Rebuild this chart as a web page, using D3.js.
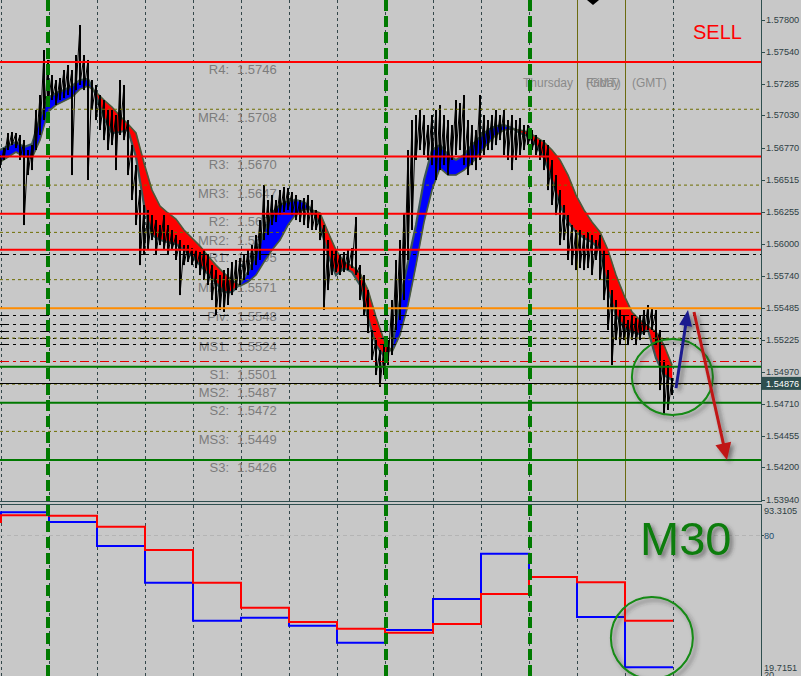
<!DOCTYPE html>
<html><head><meta charset="utf-8">
<script src="https://cdn.jsdelivr.net/npm/d3@7"></script>
<style>html,body{margin:0;padding:0;background:#c8c8c8;overflow:hidden}svg{display:block}</style>
</head><body><svg id="c" width="801" height="676"></svg>
<script>
// ---------- DATA ----------
const barHigh=[1.56712,1.56768,1.56889,1.56897,1.56889,1.56873,1.56832,1.56752,1.56792,1.57074,1.57194,1.57556,1.57476,1.57355,1.57315,1.57331,1.57395,1.57435,1.57395,1.57516,1.57757,1.57516,1.57476,1.57315,1.57275,1.57194,1.57154,1.57074,1.57074,1.57033,1.57315,1.57275,1.56993,1.56792,1.56631,1.56430,1.56310,1.56270,1.56229,1.56189,1.56149,1.56229,1.56149,1.56109,1.56069,1.56028,1.55988,1.55988,1.55964,1.55948,1.55932,1.55948,1.55908,1.55827,1.55787,1.55747,1.55787,1.55803,1.55852,1.55868,1.55884,1.55908,1.55948,1.55988,1.56069,1.56189,1.56471,1.56350,1.56390,1.56350,1.56430,1.56455,1.56447,1.56414,1.56390,1.56350,1.56366,1.56390,1.56350,1.56270,1.56229,1.56149,1.56028,1.55948,1.55948,1.55908,1.55932,1.55948,1.55964,1.56213,1.55827,1.55747,1.55626,1.55305,1.55224,1.55144,1.55184,1.55224,1.55546,1.55868,1.56028,1.56246,1.56752,1.56993,1.57033,1.57074,1.57033,1.56953,1.57033,1.57074,1.57114,1.57033,1.56993,1.56953,1.57154,1.57130,1.57194,1.56993,1.56953,1.56913,1.57194,1.57033,1.56993,1.57033,1.57074,1.57033,1.57074,1.56993,1.57033,1.56993,1.57009,1.56953,1.56953,1.56913,1.56873,1.56832,1.56832,1.56792,1.56672,1.56551,1.56430,1.56310,1.56229,1.56149,1.56109,1.56109,1.56069,1.56093,1.56069,1.56028,1.56069,1.55948,1.55787,1.55626,1.55546,1.55466,1.55425,1.55385,1.55425,1.55401,1.55425,1.55466,1.55506,1.55482,1.55466,1.55305,1.55064,1.55023,1.54919];
const barLow=[1.56607,1.56672,1.56752,1.56792,1.56768,1.56672,1.56149,1.56551,1.56591,1.56752,1.56873,1.56993,1.57114,1.57154,1.57114,1.57154,1.57170,1.57194,1.56551,1.57234,1.57275,1.57234,1.56511,1.57074,1.56993,1.56913,1.56832,1.56752,1.56792,1.56591,1.56873,1.56832,1.56551,1.56350,1.56149,1.55827,1.55908,1.55948,1.56028,1.55908,1.55988,1.55948,1.55908,1.55948,1.55868,1.55586,1.55827,1.55852,1.55827,1.55803,1.55747,1.55707,1.55667,1.55546,1.55425,1.55466,1.55450,1.55506,1.55586,1.55626,1.55667,1.55707,1.55747,1.55787,1.55827,1.55868,1.56028,1.56069,1.56149,1.56173,1.56229,1.56254,1.56270,1.56229,1.56189,1.56173,1.56149,1.56125,1.56109,1.56109,1.56028,1.55466,1.55626,1.55747,1.55771,1.55747,1.55771,1.55787,1.55803,1.55747,1.55546,1.55425,1.55281,1.55064,1.54943,1.54847,1.54943,1.55023,1.55104,1.55305,1.55385,1.55546,1.55868,1.56109,1.56672,1.56752,1.56712,1.56672,1.56631,1.56511,1.56591,1.56631,1.56551,1.56672,1.56712,1.56752,1.56631,1.56551,1.56631,1.56591,1.56672,1.56712,1.56752,1.56752,1.56792,1.56832,1.56712,1.56672,1.56591,1.56672,1.56712,1.56752,1.56792,1.56752,1.56712,1.56672,1.56591,1.56430,1.56310,1.56229,1.55988,1.56028,1.55868,1.55827,1.55787,1.55803,1.55787,1.55803,1.55747,1.55868,1.55707,1.55546,1.55305,1.55023,1.55224,1.55184,1.55224,1.55184,1.55224,1.55184,1.55224,1.55265,1.55305,1.55305,1.55184,1.54822,1.54621,1.54662,1.54782];
const maFast=[1.56752,1.56784,1.56816,1.56776,1.56800,1.57009,1.57170,1.57210,1.57234,1.57267,1.57315,1.57323,1.57194,1.57009,1.56889,1.56897,1.56913,1.56696,1.56310,1.56069,1.56028,1.56012,1.55996,1.55948,1.55900,1.55827,1.55755,1.55683,1.55610,1.55610,1.55675,1.55771,1.55908,1.56093,1.56246,1.56310,1.56342,1.56350,1.56334,1.56270,1.56149,1.55908,1.55747,1.55803,1.55771,1.55667,1.55401,1.55184,1.55096,1.55160,1.55546,1.55852,1.56149,1.56511,1.56752,1.56792,1.56712,1.56672,1.56712,1.56792,1.56857,1.56913,1.56945,1.56953,1.56929,1.56889,1.56865,1.56792,1.56688,1.56511,1.56310,1.56173,1.56093,1.56045,1.56012,1.55948,1.55626,1.55425,1.55321,1.55289,1.55273,1.55305,1.55080,1.54943,1.54903];
const maSlow=[1.56656,1.56696,1.56736,1.56696,1.56688,1.56832,1.57058,1.57114,1.57146,1.57178,1.57242,1.57267,1.57218,1.57154,1.57098,1.57025,1.56961,1.56889,1.56648,1.56430,1.56302,1.56246,1.56197,1.56109,1.56045,1.55980,1.55900,1.55827,1.55763,1.55707,1.55659,1.55691,1.55747,1.55852,1.55948,1.56028,1.56149,1.56237,1.56278,1.56270,1.56246,1.56093,1.55948,1.55852,1.55819,1.55763,1.55626,1.55409,1.55224,1.55128,1.55265,1.55506,1.55827,1.56173,1.56430,1.56607,1.56551,1.56551,1.56591,1.56648,1.56728,1.56808,1.56873,1.56913,1.56921,1.56913,1.56897,1.56857,1.56816,1.56752,1.56672,1.56551,1.56390,1.56270,1.56173,1.56093,1.55948,1.55747,1.55586,1.55450,1.55385,1.55337,1.55289,1.55184,1.55023];
const pivotNames=["R4","MR4","R3","MR3","R2","MR2","R1","MR1","Piv","MS1","S1","MS2","S2","MS3","S3"];
const pivotValues=[1.5746,1.5708,1.5670,1.5647,1.5624,1.5609,1.5595,1.5571,1.5548,1.5524,1.5501,1.5487,1.5472,1.5449,1.5426];
const pivotKinds=["R","M","R","M","R","M","R","M","P","M","S","M","S","M","S"];
const blackLevels=[1.55916,1.55425,1.55353,1.55297,1.55240,1.55192];
const redLevels=[1.55056];
const bidPrice=1.54876;
const priceTicks=[1.57800,1.57540,1.57285,1.57030,1.56770,1.56515,1.56255,1.56000,1.55740,1.55485,1.55225,1.54970,1.54710,1.54455,1.54200,1.53940];
const oscColumns=[-1,0,1,2,3,4,5,6,7,8,9,10,11,12,13];
const oscBlue=[88.46,90.09,85.82,75.24,59.07,42.32,43.64,40.12,32.63,38.22,51.89,71.85,61.58,43.95,21.79];
const oscRed=[85.82,88.77,88.60,83.75,73.48,59.07,48.05,41.75,38.80,37.03,40.87,54.09,61.58,59.25,42.32];
const oscTickValues=[93.3105,80,19.7151,20];
const oscTickLabels=["93.3105","80","19.7151","20"];
const sessionBars=[12,96.5,132.5];
const fridayBars=[144.25,156.25];
const dayLabels=["Thursday","Friday","(GMT)","(GMT)"];

// ---------- SETUP ----------
const svg=d3.select("#c");
const AX=761;
const x=d3.scaleLinear().domain([0,168]).range([0,672]);
const y=d3.scaleLinear().domain([1.5394,1.5780]).range([499.8,19.7]);
const xc=d3.scaleLinear().domain([0,14]).range([1,673]);
const yo=d3.scaleLinear().domain([19.7151,93.3105]).range([672,505]);
const fontS="'Liberation Sans',Arial,sans-serif";

const defs=svg.append("defs");
defs.append("clipPath").attr("id","cm").append("rect").attr("x",0).attr("y",0).attr("width",AX).attr("height",501);
defs.append("clipPath").attr("id","cl").append("rect").attr("x",0).attr("y",505).attr("width",AX).attr("height",171);
const sh=defs.append("filter").attr("id","sh").attr("x","-20%").attr("y","-20%").attr("width","150%").attr("height","150%");
sh.append("feDropShadow").attr("dx",3).attr("dy",3).attr("stdDeviation",2).attr("flood-color","#303030").attr("flood-opacity",0.55);

svg.append("rect").attr("width",801).attr("height",676).attr("fill","#c8c8c8");

const main=svg.append("g").attr("clip-path","url(#cm)");
const low=svg.append("g").attr("clip-path","url(#cl)");

// vertical grid
const gridK=d3.range(0,15);
[[main,0,501],[low,505,676]].forEach(([g,a,b])=>{
  g.selectAll(null).data(gridK).enter().append("line")
   .attr("x1",k=>xc(k)+0.5).attr("x2",k=>xc(k)+0.5).attr("y1",a).attr("y2",b)
   .attr("stroke","#34474a").attr("stroke-width",1).attr("stroke-dasharray","3,3");
});
// olive verticals
main.selectAll(null).data(fridayBars).enter().append("line")
 .attr("x1",d=>Math.round(x(d))+0.5).attr("x2",d=>Math.round(x(d))+0.5).attr("y1",0).attr("y2",501)
 .attr("stroke","#6b6b10").attr("stroke-width",1);

// day labels
const dayPos=[[523,"Thursday"],[586,"Friday"],[586,"(GMT)"],[632,"(GMT)"]];
main.selectAll(null).data(dayLabels).enter().append("text")
 .attr("x",(d,i)=>dayPos[i][0]).attr("y",87).text(d=>d)
 .attr("font-family",fontS).attr("font-size",12).attr("fill","#8a8a8a");

// pivot labels (under price)
const lab=main.append("g");
lab.selectAll(null).data(pivotNames).enter().append("text")
 .attr("x",229).attr("y",(d,i)=>y(pivotValues[i])+12.5).attr("text-anchor","end").text(d=>d+":")
 .attr("font-family",fontS).attr("font-size",13).attr("fill","#7c7c7c");
lab.selectAll(null).data(pivotValues).enter().append("text")
 .attr("x",237).attr("y",d=>y(d)+12.5).text(d=>d.toFixed(4))
 .attr("font-family",fontS).attr("font-size",13).attr("fill","#7c7c7c");

// ribbon
const rib=main.append("g");
const xr=i=>x(i*2);
for(let i=0;i<maFast.length-1;i++){
  const d0=maFast[i]-maSlow[i], d1=maFast[i+1]-maSlow[i+1];
  const col=v=>v>=0?"#0000ff":"#ff0000";
  if(d0*d1<0){
    const t=d0/(d0-d1);
    const xm=xr(i)+t*(xr(i+1)-xr(i));
    const pm=maFast[i]+t*(maFast[i+1]-maFast[i]);
    rib.append("path").attr("d",`M${xr(i)},${y(maFast[i])}L${xm},${y(pm)}L${xr(i)},${y(maSlow[i])}Z`).attr("fill",col(d0));
    rib.append("path").attr("d",`M${xm},${y(pm)}L${xr(i+1)},${y(maFast[i+1])}L${xr(i+1)},${y(maSlow[i+1])}Z`).attr("fill",col(d1));
  } else {
    rib.append("path").attr("d",`M${xr(i)},${y(maFast[i])}L${xr(i+1)},${y(maFast[i+1])}L${xr(i+1)},${y(maSlow[i+1])}L${xr(i)},${y(maSlow[i])}Z`)
      .attr("fill",col(d0+d1)).attr("stroke",col(d0+d1)).attr("stroke-width",0.5);
  }
}
const lf=d3.line().x((d,i)=>xr(i)).y(d=>y(d));
rib.append("path").attr("d",lf(maFast)).attr("fill","none").attr("stroke","#3a5656").attr("stroke-width",2.2);
rib.append("path").attr("d",lf(maSlow)).attr("fill","none").attr("stroke","#4a5a3a").attr("stroke-width",1.6);

// price bars: high-low bars joined into a dense trace
let pd="";
barHigh.forEach((h,i)=>{pd+=(i?"L":"M")+x(i)+","+y(h)+"L"+x(i)+","+y(barLow[i]);});
main.append("path").attr("d",pd).attr("fill","none").attr("stroke","#000").attr("stroke-width",1);
main.selectAll(null).data(barHigh).enter().append("line")
 .attr("x1",(d,i)=>x(i)).attr("x2",(d,i)=>x(i)).attr("y1",d=>y(d)).attr("y2",(d,i)=>y(barLow[i]))
 .attr("stroke","#000").attr("stroke-width",2);

// level lines
const lv=main.append("g");
const kindStyle={R:["#ff0000",2,null],M:["#6e6e00",1,"3,3"],P:["#ff8c00",2,null],S:["#007800",2,null]};
lv.selectAll(null).data(blackLevels).enter().append("line")
 .attr("x1",0).attr("x2",AX).attr("y1",d=>Math.round(y(d))+0.5).attr("y2",d=>Math.round(y(d))+0.5)
 .attr("stroke","#000").attr("stroke-width",1).attr("stroke-dasharray","9,4,3,4");
lv.selectAll(null).data(redLevels).enter().append("line")
 .attr("x1",0).attr("x2",AX).attr("y1",d=>Math.round(y(d))+0.5).attr("y2",d=>Math.round(y(d))+0.5)
 .attr("stroke","#e00000").attr("stroke-width",1).attr("stroke-dasharray","9,4,3,4");
lv.selectAll(null).data(pivotValues).enter().append("line")
 .attr("x1",0).attr("x2",AX).attr("y1",d=>y(d)).attr("y2",d=>y(d))
 .attr("stroke",(d,i)=>kindStyle[pivotKinds[i]][0]).attr("stroke-width",(d,i)=>kindStyle[pivotKinds[i]][1])
 .attr("stroke-dasharray",(d,i)=>kindStyle[pivotKinds[i]][2]);
lv.append("line").attr("x1",0).attr("x2",AX).attr("y1",Math.round(y(bidPrice))+0.5).attr("y2",Math.round(y(bidPrice))+0.5)
 .attr("stroke","#000").attr("stroke-width",1);

// oscillator steps
const so=d3.line().x(d=>xc(d[0])).y(d=>yo(d[1])).curve(d3.curveStepAfter);
const stepData=arr=>{const a=oscColumns.map((c,i)=>[c,arr[i]]);a.push([14,arr[arr.length-1]]);return a;};
low.append("line").attr("x1",0).attr("x2",AX).attr("y1",Math.round(yo(80))+0.5).attr("y2",Math.round(yo(80))+0.5)
 .attr("stroke","#b4b4b4").attr("stroke-dasharray","4,3");
low.append("path").attr("d",so(stepData(oscBlue))).attr("fill","none").attr("stroke","#0000ff").attr("stroke-width",2);
low.append("path").attr("d",so(stepData(oscRed))).attr("fill","none").attr("stroke","#ff0000").attr("stroke-width",2);

// session green dashed verticals
[[0,501],[505,676]].forEach(([a,b])=>{
  svg.selectAll(null).data(sessionBars).enter().append("line")
   .attr("x1",d=>x(d)).attr("x2",d=>x(d)).attr("y1",a).attr("y2",b)
   .attr("stroke","#007a00").attr("stroke-width",4).attr("stroke-dasharray","11,5");
});

// annotations: circles
svg.append("ellipse").attr("cx",x(168.1)).attr("cy",y(1.54927)).attr("rx",40.5).attr("ry",38)
 .attr("fill","none").attr("stroke","#138a13").attr("stroke-width",2).attr("filter","url(#sh)");
low.append("circle").attr("cx",xc(13.56)).attr("cy",yo(34.7)).attr("r",41)
 .attr("fill","none").attr("stroke","#138a13").attr("stroke-width",2).attr("filter","url(#sh)");

// arrows
function arrow(b1,p1,b2,p2,color,hl,hw){
  const x1=x(b1),y1=y(p1),x2=x(b2),y2=y(p2);
  const dx=x2-x1,dy=y2-y1,L=Math.hypot(dx,dy),ux=dx/L,uy=dy/L;
  const bx=x2-ux*hl,by=y2-uy*hl;
  const g=svg.append("g").attr("filter","url(#sh)");
  g.append("line").attr("x1",x1).attr("y1",y1).attr("x2",bx+ux*2).attr("y2",by+uy*2).attr("stroke",color).attr("stroke-width",3);
  g.append("path").attr("d",`M${x2},${y2}L${bx-uy*hw},${by+ux*hw}L${bx+uy*hw},${by-ux*hw}Z`).attr("fill",color);
}
arrow(169,1.54838,172,1.55466,"#1c1c8f",16,6.5);
arrow(173.5,1.55450,181.75,1.54260,"#c01414",17,8);

// SELL + M30 + diamond
svg.append("text").attr("x",693).attr("y",39).text("SELL").attr("font-family",fontS).attr("font-size",20).attr("fill","#ff0000");
svg.append("text").attr("x",640).attr("y",555).text("M30").attr("font-family",fontS).attr("font-size",47)
 .attr("fill","#0a7d0a").attr("filter","url(#sh)");
svg.append("path").attr("d",`M${x(146.75)},0L${x(148.25)},5L${x(149.75)},0Z`).attr("fill","#000");

// separators and axes
svg.append("line").attr("x1",0).attr("x2",AX+1).attr("y1",501.5).attr("y2",501.5).attr("stroke","#2f4f4f");
svg.append("line").attr("x1",0).attr("x2",AX+1).attr("y1",504.5).attr("y2",504.5).attr("stroke","#2f4f4f");
svg.append("line").attr("x1",AX+0.5).attr("x2",AX+0.5).attr("y1",0).attr("y2",502).attr("stroke","#2f4f4f");
svg.append("line").attr("x1",AX+0.5).attr("x2",AX+0.5).attr("y1",505).attr("y2",676).attr("stroke","#2f4f4f");

const ax=svg.append("g");
ax.selectAll(null).data(priceTicks).enter().append("line")
 .attr("x1",AX).attr("x2",AX+4).attr("y1",d=>Math.round(y(d))+0.5).attr("y2",d=>Math.round(y(d))+0.5).attr("stroke","#2f4f4f");
ax.selectAll(null).data(priceTicks).enter().append("text")
 .attr("x",766).attr("y",d=>y(d)+3).text(d=>d.toFixed(5))
 .attr("font-family",fontS).attr("font-size",9.2).attr("fill","#2f3f45");
// bid box
ax.append("rect").attr("x",762).attr("y",y(bidPrice)-6.5).attr("width",39).attr("height",13).attr("fill","#2f4f4f");
ax.append("text").attr("x",766).attr("y",y(bidPrice)+3.5).text(bidPrice.toFixed(5))
 .attr("font-family",fontS).attr("font-size",9.2).attr("fill","#ffffff");
// osc axis
const oscDy=[9,3.5,-1,7];
ax.selectAll(null).data(oscTickValues).enter().append("text")
 .attr("x",764).attr("y",(d,i)=>yo(d)+oscDy[i]).text((d,i)=>oscTickLabels[i])
 .attr("font-family",fontS).attr("font-size",9.2).attr("fill",(d,i)=>i==1?"#1f4f6f":"#2f3f45");
ax.append("line").attr("x1",AX).attr("x2",AX+3).attr("y1",Math.round(yo(80))+0.5).attr("y2",Math.round(yo(80))+0.5).attr("stroke","#2f4f4f");
</script></body></html>
